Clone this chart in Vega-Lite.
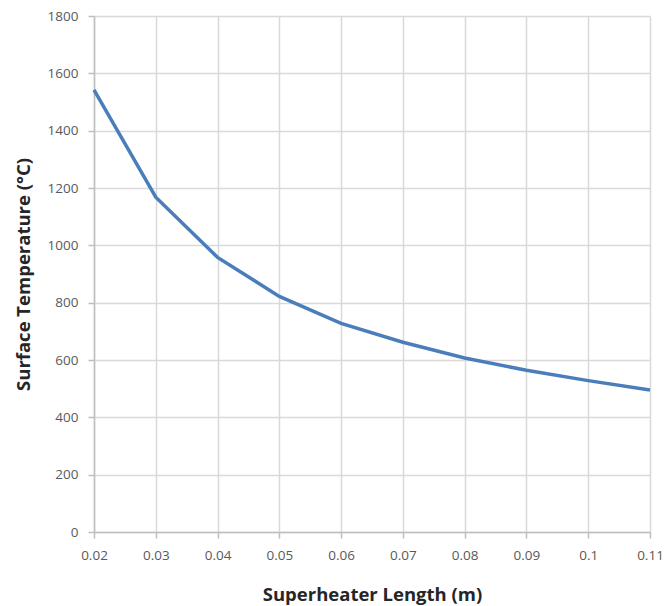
{
  "$schema": "https://vega.github.io/schema/vega-lite/v6.json",
  "autosize": "none",
  "width": 556,
  "height": 516,
  "padding": {"left": 94, "top": 16, "right": 14, "bottom": 74},
  "background": "white",
  "config": {
    "font": "Open Sans",
    "view": {"stroke": null},
    "axis": {
      "gridColor": "#d9d9d9",
      "gridWidth": 1.5,
      "domainColor": "#bfbfbf",
      "domainWidth": 1.5,
      "tickColor": "#bfbfbf",
      "tickWidth": 1.5,
      "tickSize": 6,
      "labelFlush": false,
      "labelColor": "#595959",
      "labelFontSize": 13.5,
      "titleColor": "#262626",
      "titleFontSize": 18.5,
      "titleFontWeight": "bold"
    }
  },
  "data": {
    "values": [
      {"length": 0.02, "temp": 1542},
      {"length": 0.03, "temp": 1168},
      {"length": 0.04, "temp": 958},
      {"length": 0.05, "temp": 822},
      {"length": 0.06, "temp": 728},
      {"length": 0.07, "temp": 662},
      {"length": 0.08, "temp": 607},
      {"length": 0.09, "temp": 564},
      {"length": 0.1, "temp": 528},
      {"length": 0.11, "temp": 495}
    ]
  },
  "mark": {"type": "line", "color": "#4a7ebb", "strokeWidth": 3.5},
  "encoding": {
    "x": {
      "field": "length",
      "type": "quantitative",
      "scale": {"domain": [0.02, 0.11], "nice": false, "zero": false},
      "axis": {
        "values": [0.02, 0.03, 0.04, 0.05, 0.06, 0.07, 0.08, 0.09, 0.1, 0.11],
        "labelExpr": "format(datum.value, '.2~f')",
        "labelPadding": 10,
        "title": "Superheater Length (m)",
        "titlePadding": 24
      }
    },
    "y": {
      "field": "temp",
      "type": "quantitative",
      "scale": {"domain": [0, 1800], "nice": false},
      "axis": {
        "values": [0, 200, 400, 600, 800, 1000, 1200, 1400, 1600, 1800],
        "format": "d",
        "labelPadding": 10,
        "title": "Surface Temperature (°C)",
        "titlePadding": 14
      }
    }
  }
}
